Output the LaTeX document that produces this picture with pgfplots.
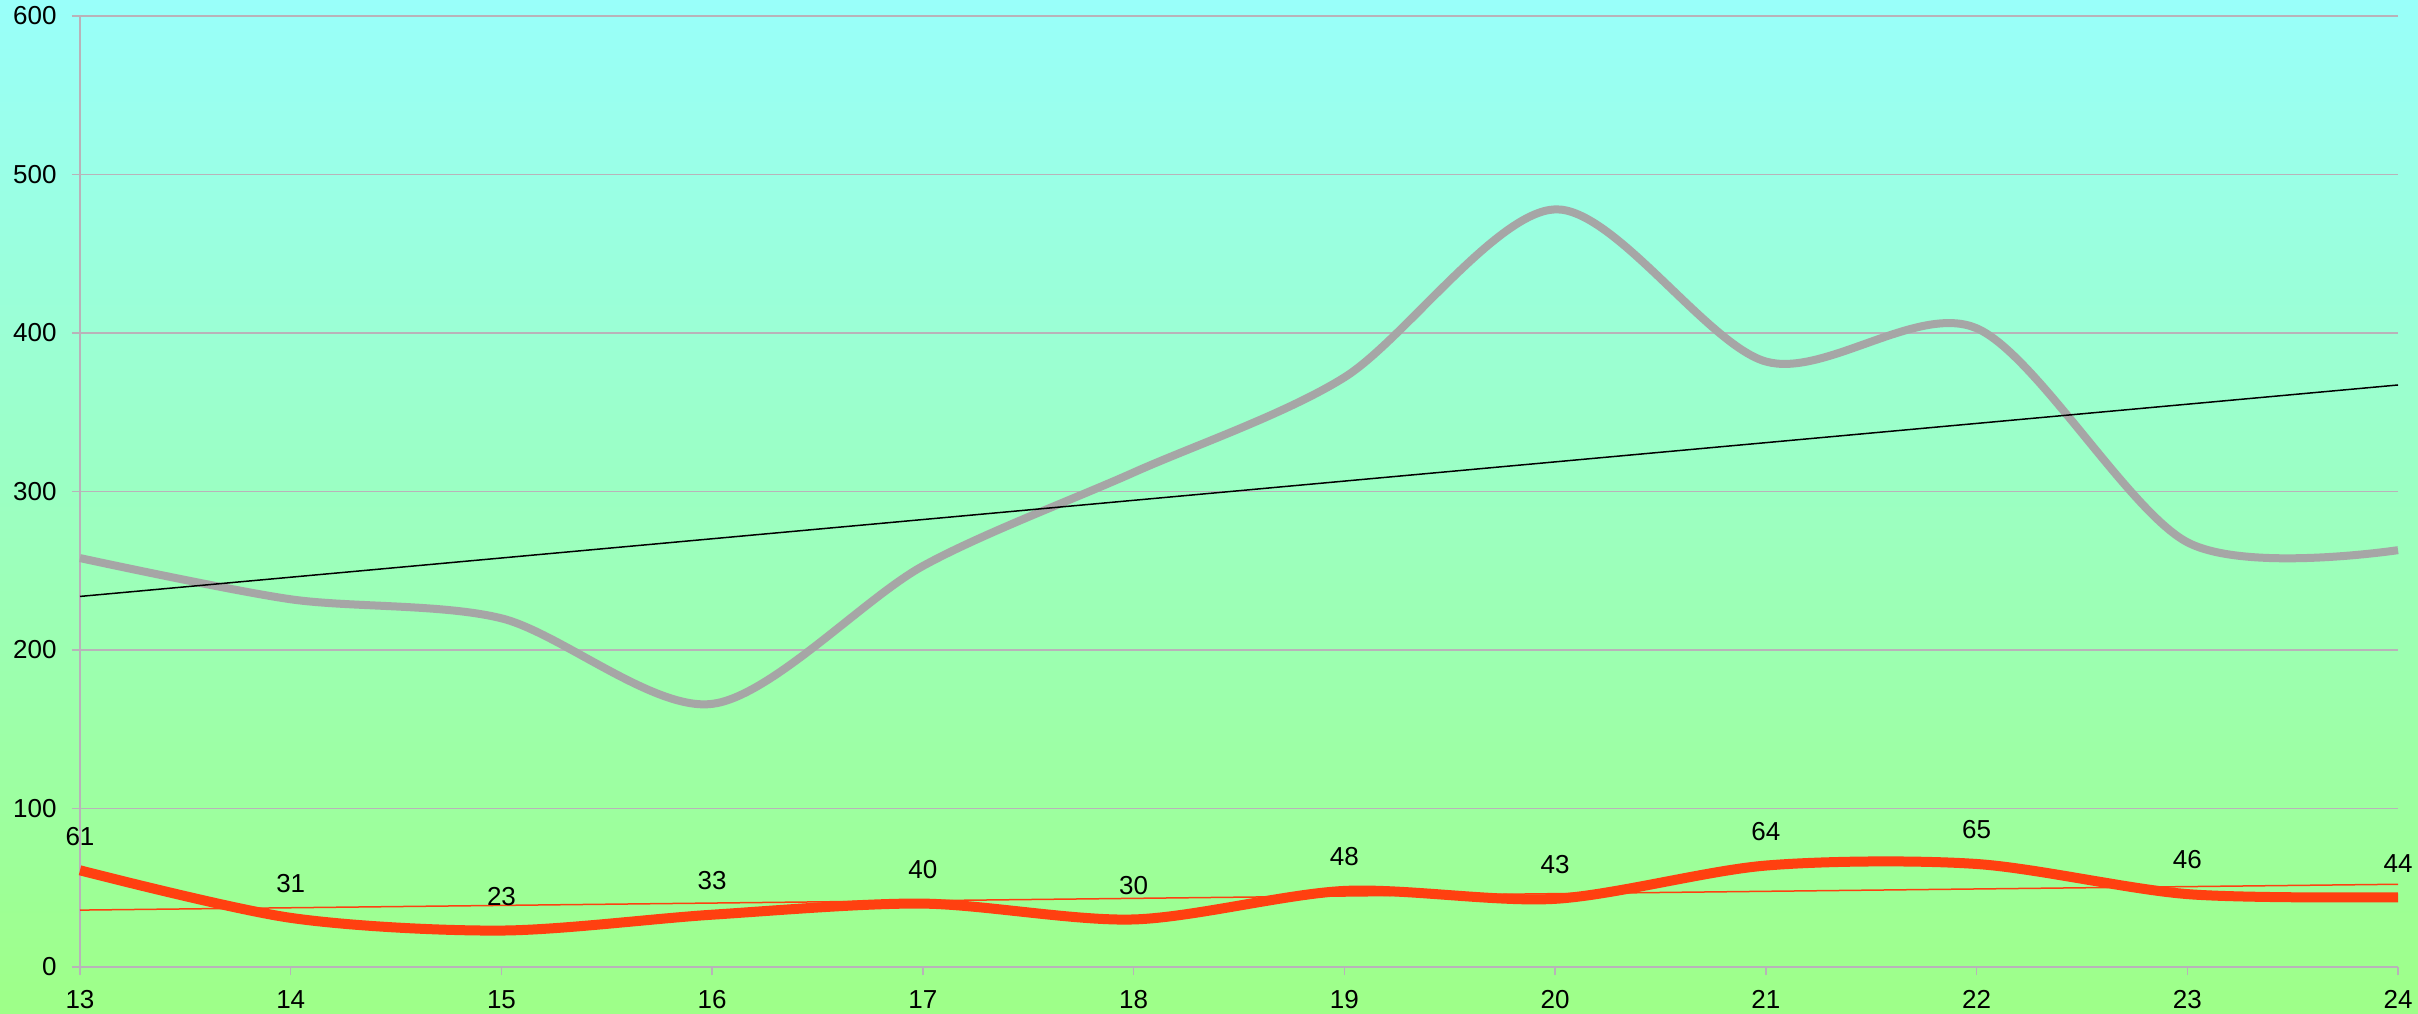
\documentclass[border=0pt]{standalone}
\usepackage{pgfplots}
\pgfplotsset{compat=1.18}
\usepackage{fontspec}
\setmainfont{Liberation Sans}
\definecolor{bgtop}{RGB}{153,255,250}
\definecolor{bgbot}{RGB}{158,255,136}
\definecolor{gridc}{RGB}{185,178,185}
\definecolor{greyline}{RGB}{166,166,166}
\definecolor{redline}{RGB}{255,64,16}
\newcommand{\lblfont}{\fontsize{13}{15}\selectfont}
\begin{document}
\begin{tikzpicture}
  \shade[top color=bgtop, bottom color=bgbot] (0,0) rectangle (1209pt,506.5pt);
  \begin{axis}[
      at={(40pt,23pt)}, anchor=south west,
      scale only axis,
      width=1159pt, height=475.5pt,
      xmin=13, xmax=24, ymin=0, ymax=600,
      xtick={13,14,...,24},
      ytick={0,100,...,600},
      axis x line*=bottom, axis y line*=left,
      axis line style={gridc, -, line width=0.7pt},
      ymajorgrids,
      grid style={gridc, line width=0.7pt},
      tick style={gridc, line width=0.7pt},
      tick align=outside,
      major tick length=4pt,
      clip=false,
      /pgf/number format/assume math mode=true,
      xticklabel style={font=\lblfont, text=black, inner sep=0pt, yshift=-7.5pt},
      yticklabel style={font=\lblfont, text=black, inner sep=0pt, xshift=-7.5pt},
    ]
    % grey series
    \addplot[greyline, line width=4pt, smooth] coordinates {
      (13,258) (14,232) (15,220) (16,166) (17,253) (18,312)
      (19,372) (20,478) (21,382) (22,403) (23,268) (24,263)};
    % red series
    \addplot[redline, line width=5pt, smooth,
      nodes near coords,
      nodes near coords style={font=\lblfont, text=black,
        anchor=south, inner sep=0pt, yshift=10pt},
      ] coordinates {
      (13,61) (14,31) (15,23) (16,33) (17,40) (18,30)
      (19,48) (20,43) (21,64) (22,65) (23,46) (24,44)};
    % trend lines
    \addplot[black, line width=0.75pt] coordinates {(13,233.8) (24,367.2)};
    \addplot[redline, line width=0.75pt] coordinates {(13,35.9) (24,52.2)};
  \end{axis}
  \pgfresetboundingbox
  \path (0,0) rectangle (1209pt,506.5pt);
\end{tikzpicture}
\end{document}
